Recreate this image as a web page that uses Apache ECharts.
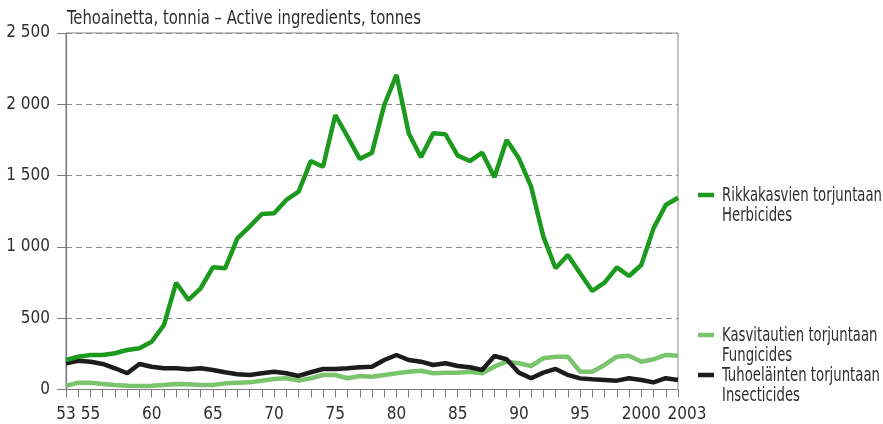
<!DOCTYPE html>
<html>
<head>
<meta charset="utf-8">
<script src="https://cdn.jsdelivr.net/npm/echarts@6/dist/echarts.min.js"></script>
<style>
  html, body { margin: 0; padding: 0; background: #fff; }
  #chart { width: 883px; height: 424px; }
</style>
</head>
<body>
<div id="chart"></div>
<script>
// Years 1953–2003
var years = [
  1953, 1954, 1955, 1956, 1957, 1958, 1959, 1960, 1961, 1962,
  1963, 1964, 1965, 1966, 1967, 1968, 1969, 1970, 1971, 1972,
  1973, 1974, 1975, 1976, 1977, 1978, 1979, 1980, 1981, 1982,
  1983, 1984, 1985, 1986, 1987, 1988, 1989, 1990, 1991, 1992,
  1993, 1994, 1995, 1996, 1997, 1998, 1999, 2000, 2001, 2002, 2003
];

// Active ingredients, tonnes
var herbicides = [
  207, 230, 242, 242, 254, 277, 289, 335, 452, 749,
  628, 710, 857, 850, 1060, 1142, 1231, 1236, 1329, 1387,
  1602, 1562, 1925, 1773, 1617, 1661, 1995, 2206, 1797, 1628,
  1797, 1790, 1640, 1602, 1661, 1488, 1750, 1621, 1422, 1072,
  850, 943, 815, 691, 749, 857, 796, 873, 1130, 1294, 1345
];
var fungicides = [
  25, 48, 48, 39, 32, 27, 25, 27, 32, 39,
  36, 32, 32, 43, 48, 50, 62, 74, 79, 62,
  79, 102, 102, 79, 95, 90, 102, 114, 125, 132,
  114, 118, 118, 125, 114, 160, 195, 184, 165, 219,
  230, 230, 125, 125, 172, 230, 237, 195, 212, 242, 237
];
var insecticides = [
  184, 202, 195, 179, 149, 114, 179, 160, 149, 149,
  142, 149, 137, 121, 107, 102, 114, 125, 114, 95,
  121, 144, 144, 149, 156, 160, 207, 242, 207, 195,
  172, 184, 165, 156, 137, 235, 212, 118, 79, 118,
  144, 102, 78, 72, 67, 62, 79, 67, 50, 79, 67
];

// Year labels shown under the axis
var xTickLabels = {
  1953: '53', 1955: '55', 1960: '60', 1965: '65', 1970: '70',
  1975: '75', 1980: '80', 1985: '85', 1990: '90', 1995: '95',
  2000: '2000', 2003: '2003'
};
var yTickValues = [0, 500, 1000, 1500, 2000, 2500];

var titleText = 'Tehoainetta, tonnia – Active ingredients, tonnes';
var seriesNames = [
  ['Rikkakasvien torjuntaan', 'Herbicides'],
  ['Kasvitautien torjuntaan', 'Fungicides'],
  ['Tuhoeläinten torjuntaan', 'Insecticides']
];
var colors = ['#1c9a1e', '#79c46c', '#1c1c1c'];

var FONT = '"DejaVu Sans Condensed", "Liberation Sans", sans-serif';
var TEXT = '#2e2e2e';
var LABEL_SIZE = 19;

// Narrow the wide fallback face horizontally so the lines keep their set width
var measureCtx = document.createElement('canvas').getContext('2d');
function fitScale(text, size, width) {
  measureCtx.font = size + 'px ' + FONT;
  return width / measureCtx.measureText(text).width;
}
var legendScale = fitScale(seriesNames[0][0], LABEL_SIZE, 160);
var titleScale = fitScale(titleText, LABEL_SIZE, 354);

function textLine(str, x, y, scale) {
  return {
    type: 'text', x: x, y: y, scaleX: scale, silent: true,
    style: { text: str, x: 0, y: 0, font: LABEL_SIZE + 'px ' + FONT,
             fill: TEXT, align: 'left', verticalAlign: 'middle' }
  };
}

function legendItem(idx, y) {
  return [
    { type: 'rect', x: 698, y: y - 2.25, silent: true,
      shape: { x: 0, y: 0, width: 16, height: 4.5 },
      style: { fill: colors[idx] } },
    textLine(seriesNames[idx][0], 722, y + 1.5, legendScale),
    textLine(seriesNames[idx][1], 722, y + 21, legendScale)
  ];
}

var chart = echarts.init(document.getElementById('chart'), null, { renderer: 'canvas' });

chart.setOption({
  animation: false,
  backgroundColor: '#fff',
  grid: {
    left: 66, right: 205, top: 33, bottom: 34.5,
    show: true, borderColor: '#8a8a8a', borderWidth: 1
  },
  xAxis: {
    type: 'category',
    data: years,
    boundaryGap: false,
    axisLine: { lineStyle: { color: '#7a7a7a', width: 1.2 } },
    axisTick: { show: true, inside: false, length: 8, interval: 0,
                lineStyle: { color: '#7a7a7a' } },
    axisLabel: {
      interval: function (i, v) { return xTickLabels[v] !== undefined; },
      formatter: function (v) {
        var s = xTickLabels[v] || '';
        return v == 2003 ? '{last|' + s + '}' : s;
      },
      rich: { last: { fontFamily: FONT, fontSize: 17, color: TEXT, padding: [0, 0, 0, 18] } },
      fontFamily: FONT, fontSize: 17, color: TEXT, margin: 17
    },
    splitLine: { show: false }
  },
  yAxis: {
    type: 'value',
    min: yTickValues[0],
    max: yTickValues[yTickValues.length - 1],
    interval: 500,
    axisLine: { show: true, lineStyle: { color: '#7a7a7a', width: 1.2 } },
    axisTick: { show: true, length: 9, lineStyle: { color: '#7a7a7a' } },
    axisLabel: {
      formatter: function (v) {
        return v >= 1000 ? Math.floor(v / 1000) + ' ' + String(v % 1000).padStart(3, '0') : String(v);
      },
      fontFamily: FONT, fontSize: 17, color: TEXT, margin: 16
    },
    splitLine: { show: true, lineStyle: { color: '#8a8a8a', type: [6, 4], width: 1 } }
  },
  series: [
    { name: 'Herbicides', type: 'line', data: herbicides, symbol: 'none',
      lineStyle: { color: colors[0], width: 4.5 }, z: 4 },
    { name: 'Fungicides', type: 'line', data: fungicides, symbol: 'none',
      lineStyle: { color: colors[1], width: 4.5 }, z: 2 },
    { name: 'Insecticides', type: 'line', data: insecticides, symbol: 'none',
      lineStyle: { color: colors[2], width: 4.5 }, z: 3 }
  ],
  graphic: [].concat(
    [textLine(titleText, 67, 19, titleScale)],
    legendItem(0, 195),
    legendItem(1, 335),
    legendItem(2, 375)
  )
});
</script>
</body>
</html>
